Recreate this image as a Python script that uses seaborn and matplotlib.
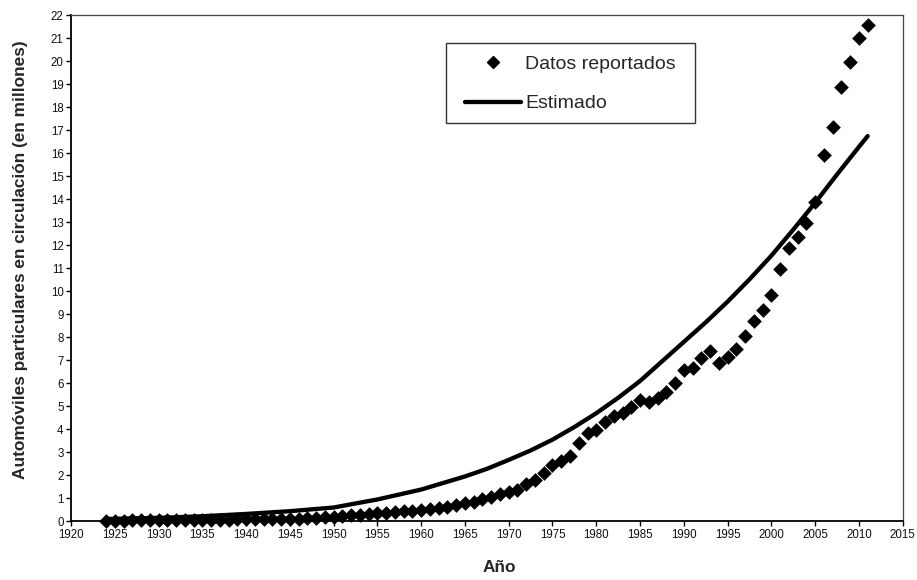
import matplotlib
matplotlib.use("Agg")
import matplotlib.pyplot as plt
from matplotlib.lines import Line2D
from matplotlib.patches import Rectangle
import seaborn as sns
import pandas as pd

# Reported private cars in circulation (millions), one value per year
years = list(range(1924, 2012))
reported = [
    0.03, 0.03, 0.03, 0.04, 0.04, 0.05, 0.05, 0.05, 0.05, 0.05,   # 1924-1933
    0.05, 0.06, 0.06, 0.07, 0.07, 0.08, 0.08, 0.08, 0.08, 0.08,   # 1934-1943
    0.09, 0.10, 0.11, 0.13, 0.15, 0.18, 0.20, 0.23, 0.26, 0.28,   # 1944-1953
    0.32, 0.35, 0.38, 0.41, 0.43, 0.46, 0.50, 0.54, 0.58, 0.64,   # 1954-1963
    0.72, 0.81, 0.85, 0.96, 1.04, 1.19, 1.26, 1.36, 1.62, 1.80,   # 1964-1973
    2.11, 2.45, 2.62, 2.85, 3.39, 3.83, 3.97, 4.33, 4.58, 4.72,   # 1974-1983
    4.98, 5.27, 5.20, 5.35, 5.63, 6.00, 6.58, 6.65, 7.09, 7.40,   # 1984-1993
    6.90, 7.16, 7.48, 8.06, 8.70, 9.20, 9.82, 10.96, 11.87, 12.37,  # 1994-2003
    12.98, 13.90, 15.93, 17.16, 18.87, 19.96, 21.00, 21.60,       # 2004-2011
]

# Fitted (estimated) curve
est_years = [1924, 1930, 1935, 1940, 1945, 1950, 1955, 1960, 1965, 1967.5,
             1970, 1972.5, 1975, 1977.5, 1980, 1982.5, 1985, 1987.5, 1990,
             1992.5, 1995, 1997.5, 2000, 2002.5, 2005, 2007.5, 2010, 2011]
estimated = [0.10, 0.15, 0.22, 0.32, 0.44, 0.60, 0.95, 1.38, 1.95, 2.28,
             2.67, 3.08, 3.55, 4.10, 4.70, 5.37, 6.10, 6.95, 7.80,
             8.65, 9.55, 10.52, 11.55, 12.68, 13.85, 15.08, 16.28, 16.75]

x_ticks = list(range(1920, 2016, 5))
y_ticks = list(range(0, 23))

label_rep = "Datos reportados"
label_est = "Estimado"
x_label = "Año"
y_label = "Automóviles particulares en circulación (en millones)"

sns.set_style("white")
plt.rcParams["font.family"] = ["Liberation Sans", "DejaVu Sans"]

df_rep = pd.DataFrame({"year": years, "value": reported})
df_est = pd.DataFrame({"year": est_years, "value": estimated})

W, H = 917, 580
fig = plt.figure(figsize=(W / 100, H / 100), dpi=100)
ax = fig.add_axes([0.0774, 0.1012, 0.9070, 0.8724])

sns.lineplot(data=df_est, x="year", y="value", ax=ax, color="black",
             linewidth=3.1, sort=True, zorder=2)
sns.scatterplot(data=df_rep, x="year", y="value", ax=ax, marker="D",
                s=56, color="black", linewidth=0, clip_on=False, zorder=3)

ax.set_xlim(1920, 2015)
ax.set_ylim(0, 22)
ax.set_xticks(x_ticks)
ax.set_yticks(y_ticks)
ax.tick_params(axis="both", direction="out", length=3.3, width=1.0,
               labelsize=8.3, pad=2, colors="black", labelcolor="#111111")
ax.tick_params(left=True, bottom=True)

for side in ("left", "bottom"):
    ax.spines[side].set_color("black")
    ax.spines[side].set_linewidth(1.3)
for side in ("top", "right"):
    ax.spines[side].set_color("#444444")
    ax.spines[side].set_linewidth(0.9)

ax.set_xlabel(x_label, fontsize=12.4, fontweight="bold")
ax.set_ylabel(y_label, fontsize=12.4, fontweight="bold")
ax.xaxis.set_label_coords(0.5146, -0.0765)
ax.yaxis.set_label_coords(-0.052, 0.518)

# Legend: frameless entries inside a plain rectangular box
box = Rectangle((446 / W, 1 - 123 / H), (695 - 446) / W, (123 - 43) / H,
                transform=fig.transFigure, facecolor="white",
                edgecolor="#333333", linewidth=1.0, zorder=4)
fig.patches.append(box)

handles = [
    Line2D([], [], linestyle="none", marker="D", markersize=6.2,
           color="black"),
    Line2D([], [], color="black", linewidth=3.1),
]
leg = fig.legend(handles, [label_rep, label_est], loc="upper left",
                 bbox_to_anchor=(465 / W, 1 - 55 / H),
                 bbox_transform=fig.transFigure, borderaxespad=0,
                 fontsize=14, frameon=False, handlelength=2.9,
                 handletextpad=0.2, borderpad=0, labelspacing=1.14)
leg.set_zorder(5)

fig.savefig("out.png", dpi=100)
